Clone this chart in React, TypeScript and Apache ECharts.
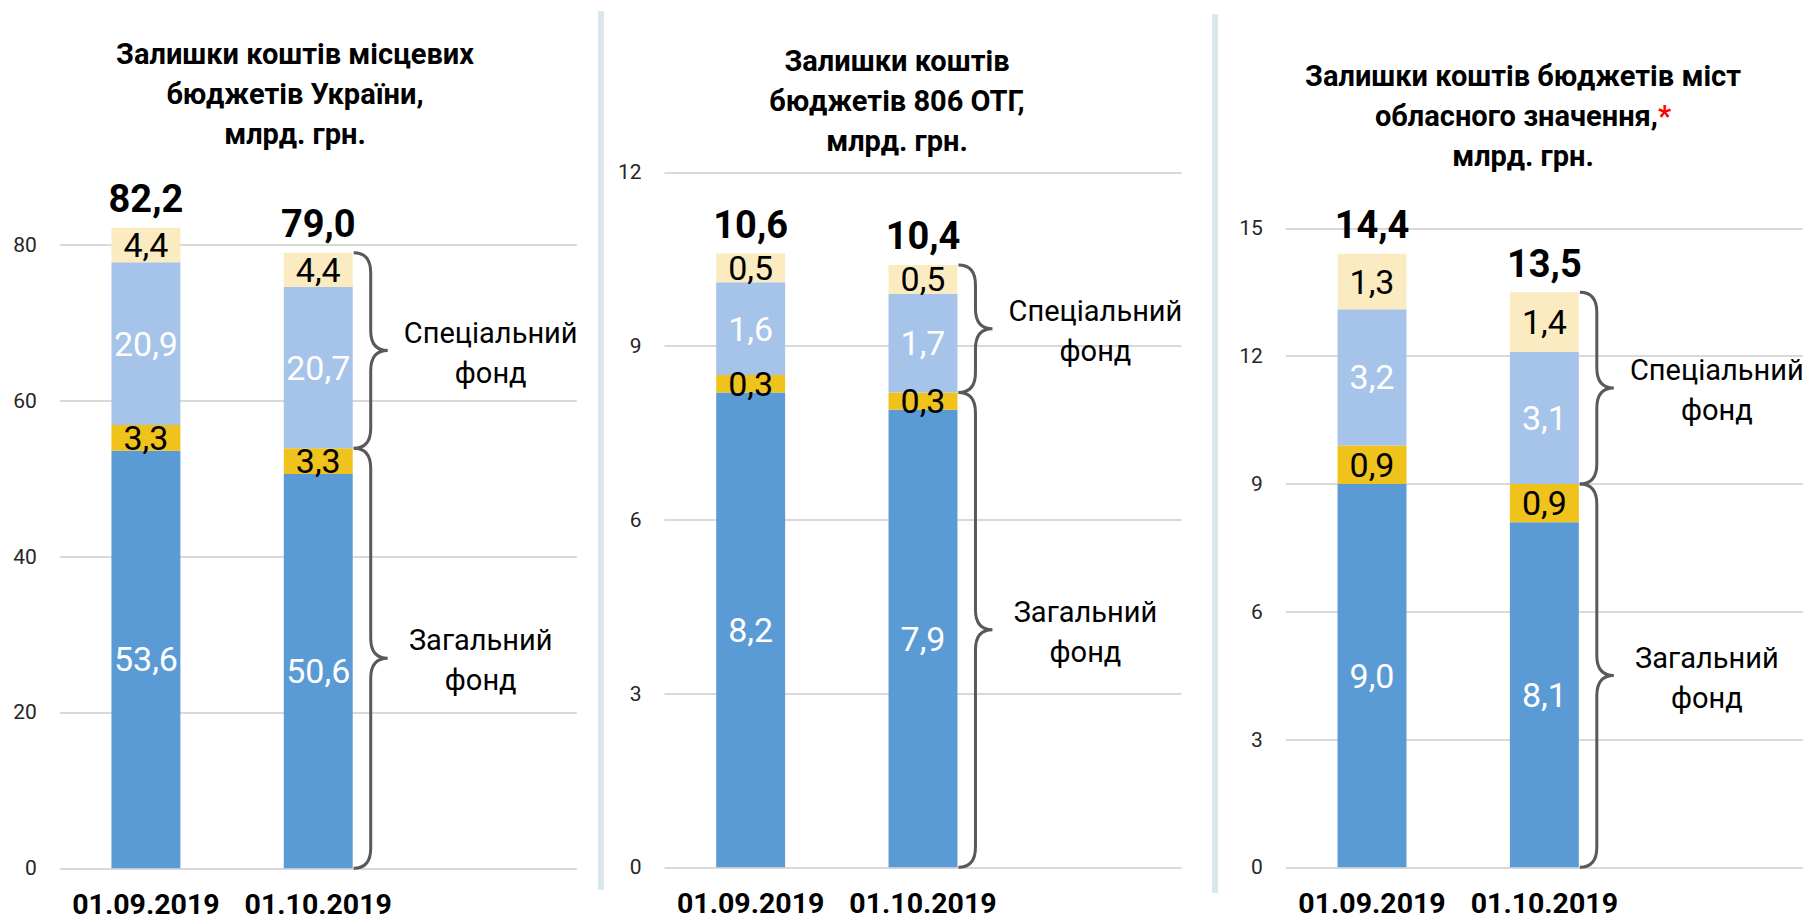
import React, { useEffect, useRef } from "react";
import * as echarts from "echarts";

// ---------- data ----------
const categories = ["01.09.2019", "01.10.2019", ""];

// Panel 1: local budgets of Ukraine
const ukrGeneral = [53.6, 50.6];
const ukrGeneralExtra = [3.3, 3.3];
const ukrSpecial = [20.9, 20.7];
const ukrSpecialExtra = [4.4, 4.4];
const ukrTotal = [82.2, 79.0];

// Panel 2: budgets of 806 OTG
const otgGeneral = [8.2, 7.9];
const otgGeneralExtra = [0.3, 0.3];
const otgSpecial = [1.6, 1.7];
const otgSpecialExtra = [0.5, 0.5];
const otgTotal = [10.6, 10.4];

// Panel 3: cities of oblast significance
const cityGeneral = [9.0, 8.1];
const cityGeneralExtra = [0.9, 0.9];
const citySpecial = [3.2, 3.1];
const citySpecialExtra = [1.3, 1.4];
const cityTotal = [14.4, 13.5];

const titles = [
  "Залишки коштів місцевих\nбюджетів України,\nмлрд. грн.",
  "Залишки коштів\nбюджетів 806 ОТГ,\nмлрд. грн.",
  "Залишки коштів бюджетів міст\nобласного значення,{r|*}\nмлрд. грн.",
];
const yMax = [80, 12, 15];
const yStep = [20, 3, 3];
const braceLabels = ["Спеціальний\nфонд", "Загальний\nфонд"];

const panels = [
  { g: ukrGeneral, ge: ukrGeneralExtra, s: ukrSpecial, se: ukrSpecialExtra, t: ukrTotal },
  { g: otgGeneral, ge: otgGeneralExtra, s: otgSpecial, se: otgSpecialExtra, t: otgTotal },
  { g: cityGeneral, ge: cityGeneralExtra, s: citySpecial, se: citySpecialExtra, t: cityTotal },
];

// ---------- layout / style ----------
const FONT = 'Roboto, "Noto Sans", sans-serif';
const colors = ["#5B9BD5", "#EFC21C", "#A6C3E9", "#FAEBC0"];
const labelColors = ["#ffffff", "#000000", "#ffffff", "#000000"];
const gridLayout = [
  { left: 59.75, top: 245, width: 517, y0: 868.3 },
  { left: 664.5, top: 172.3, width: 517, y0: 867.3 },
  { left: 1285.85, top: 228.3, width: 517, y0: 867.3 },
];
const titlePos = [
  { x: 295, y: 93.5 },
  { x: 897, y: 100.5 },
  { x: 1523, y: 116 },
];
const braceTextOffset = [103, 93];

const fmt = (v: number) => v.toFixed(1).replace(".", ",");

export default function App() {
  const ref = useRef<HTMLDivElement>(null);
  useEffect(() => {
    if (!ref.current) return;
    const chart = echarts.init(ref.current, null, { renderer: "svg" });

    const grids: any[] = [];
    const xAxes: any[] = [];
    const yAxes: any[] = [];
    const series: any[] = [];

    panels.forEach((p, i) => {
      const L = gridLayout[i];
      grids.push({
        left: L.left,
        top: L.top,
        width: L.width,
        height: L.y0 - L.top,
        containLabel: false,
        outerBoundsMode: "none",
      });
      xAxes.push({
        type: "category",
        gridIndex: i,
        data: categories,
        axisLine: { show: false },
        axisTick: { show: false },
        splitLine: { show: false },
        axisLabel: {
          interval: 0,
          margin: 22,
          fontSize: 28.5,
          fontWeight: "bold",
          fontFamily: FONT,
          color: "#000",
        },
      });
      yAxes.push({
        type: "value",
        gridIndex: i,
        min: 0,
        max: yMax[i],
        interval: yStep[i],
        axisLine: { show: false },
        axisTick: { show: false },
        axisLabel: { margin: 23, fontSize: 21, fontFamily: FONT, color: "#262626" },
        splitLine: { lineStyle: { color: "#D9D9D9", width: 2 } },
      });

      const segs = [p.g, p.ge, p.s, p.se];
      segs.forEach((arr, k) => {
        series.push({
          type: "bar",
          xAxisIndex: i,
          yAxisIndex: i,
          stack: "s" + i,
          barWidth: "40%",
          clip: false,
          data: arr,
          itemStyle: { color: colors[k] },
          label: {
            show: true,
            position: "inside",
            formatter: (d: any) => fmt(d.value),
            fontSize: 34,
            fontFamily: FONT,
            color: labelColors[k],
          },
        });
      });

      series.push({
        type: "line",
        xAxisIndex: i,
        yAxisIndex: i,
        data: p.t,
        symbol: "circle",
        symbolSize: 1,
        lineStyle: { width: 0, opacity: 0 },
        itemStyle: { color: "rgba(0,0,0,0)" },
        clip: false,
        z: 10,
        label: {
          show: true,
          position: "top",
          distance: 9,
          formatter: (d: any) => fmt(d.value),
          fontSize: 38,
          fontWeight: "bold",
          fontFamily: FONT,
          color: "#000",
        },
      });

      // braces on the second bar: special fund and general fund
      const generalTop = p.g[1] + p.ge[1];
      const total = generalTop + p.s[1] + p.se[1];
      series.push({
        type: "custom",
        xAxisIndex: i,
        yAxisIndex: i,
        clip: false,
        silent: true,
        z: 5,
        data: [
          [1, generalTop, total, 0],
          [1, 0, generalTop, 1],
        ],
        renderItem: (params: any, api: any) => {
          const cat = api.value(0);
          const lo = api.value(1);
          const hi = api.value(2);
          const kind = api.value(3);
          const pLo = api.coord([cat, lo]);
          const pHi = api.coord([cat, hi]);
          const band = api.size([1, 0])[0];
          const x0 = pLo[0] + band * 0.2 + 1;
          const yTop = pHi[1];
          const yBot = pLo[1];
          const yMid = (yTop + yBot) / 2;
          const dx = 17;
          const r = Math.min(20, (yBot - yTop) / 4);
          const xv = x0 + dx;
          const xt = x0 + 2 * dx;
          const d =
            `M${x0} ${yTop} Q${xv} ${yTop} ${xv} ${yTop + r} ` +
            `L${xv} ${yMid - r} Q${xv} ${yMid} ${xt} ${yMid} ` +
            `Q${xv} ${yMid} ${xv} ${yMid + r} L${xv} ${yBot - r} ` +
            `Q${xv} ${yBot} ${x0} ${yBot}`;
          return {
            type: "group",
            children: [
              {
                type: "path",
                shape: { pathData: d },
                style: { stroke: "#595959", lineWidth: 3, fill: "none" },
              },
              {
                type: "text",
                x: xt + braceTextOffset[kind],
                y: yMid + 2,
                style: {
                  text: braceLabels[kind],
                  fontSize: 29,
                  fontFamily: FONT,
                  fill: "#000",
                  align: "center",
                  verticalAlign: "middle",
                  textAlign: "center",
                  textVerticalAlign: "middle",
                  lineHeight: 40,
                },
              },
            ],
          };
        },
      });
    });

    const graphic: any[] = [
      { type: "rect", shape: { x: 598, y: 11, width: 6, height: 879 }, style: { fill: "#DAE8EE" }, silent: true },
      { type: "rect", shape: { x: 1212, y: 14, width: 6, height: 879 }, style: { fill: "#DAE8EE" }, silent: true },
    ];
    titles.forEach((t, i) => {
      graphic.push({
        type: "text",
        x: titlePos[i].x,
        y: titlePos[i].y,
        silent: true,
        style: {
          text: t,
          fontSize: 29,
          fontWeight: "bold",
          fontFamily: FONT,
          fill: "#000",
          textAlign: "center",
          textVerticalAlign: "middle",
          align: "center",
          verticalAlign: "middle",
          lineHeight: 40,
          rich: {
            r: { fill: "#FF0000", fontSize: 29, fontWeight: "bold", fontFamily: FONT, lineHeight: 40 },
          },
        },
      });
    });

    chart.setOption({
      animation: false,
      backgroundColor: "#ffffff",
      grid: grids,
      xAxis: xAxes,
      yAxis: yAxes,
      series,
      graphic,
    });
    return () => chart.dispose();
  }, []);

  return (
    <div
      ref={ref}
      style={{ position: "fixed", left: 0, top: 0, width: 1806, height: 923 }}
    />
  );
}
